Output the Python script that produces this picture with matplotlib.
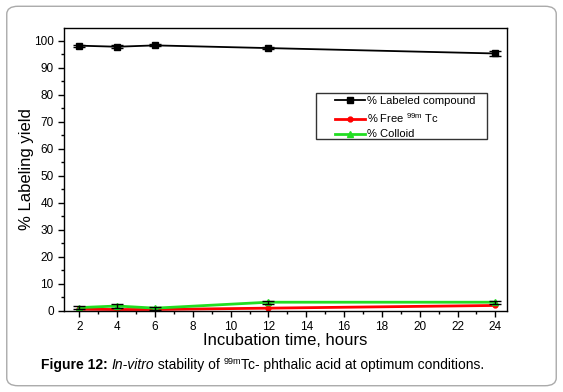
import matplotlib
matplotlib.use("Agg")
import matplotlib.pyplot as plt
from matplotlib.patches import FancyBboxPatch, Rectangle
from matplotlib.ticker import MultipleLocator

plt.rcParams['font.family'] = ['Liberation Sans', 'DejaVu Sans']
plt.rcParams['mathtext.fontset'] = 'custom'
plt.rcParams['mathtext.rm'] = 'Liberation Sans'
plt.rcParams['mathtext.it'] = 'Liberation Sans:italic'
plt.rcParams['mathtext.bf'] = 'Liberation Sans:bold'

hours = [2, 4, 6, 12, 24]
labeled = [98.2, 97.8, 98.3, 97.3, 95.3]
labeled_err = [0.4, 0.5, 0.4, 0.5, 0.8]
free_tc = [0.6, 0.5, 0.5, 1.0, 2.0]
colloid = [1.2, 1.8, 1.0, 3.2, 3.2]
colloid_err = [0.6, 0.8, 0.5, 0.6, 0.6]

fig = plt.figure(figsize=(5.63, 3.92), dpi=100)
border = FancyBboxPatch((0.012, 0.016), 0.976, 0.968, boxstyle="round,pad=0,rounding_size=0.02",
                        transform=fig.transFigure, facecolor='white', edgecolor='#aaaaaa',
                        linewidth=1.0, zorder=-10)
fig.patches.append(border)

ax = fig.add_axes([0.114, 0.207, 0.786, 0.722])
ax.errorbar(hours, labeled, yerr=labeled_err, fmt='none', ecolor='black', capsize=4,
            elinewidth=1)
h1, = ax.plot(hours, labeled, color='black', marker='s', markersize=4.5,
              linewidth=1.3, label='% Labeled compound')
h2, = ax.plot(hours, free_tc, color='#ff0000', marker='o', markersize=3.5, linewidth=2,
              label='% Free $^{\\rm 99m}$ Tc')
h3, = ax.plot(hours, colloid, color='#22dd22', marker='^', markersize=4, linewidth=2,
              label='% Colloid')
ax.errorbar(hours, colloid, yerr=colloid_err, fmt='none', ecolor='black', capsize=4,
            elinewidth=1)

ax.set_xlim(1.2, 24.6)
ax.set_ylim(0, 104.8)
ax.xaxis.set_major_locator(MultipleLocator(2))
ax.xaxis.set_minor_locator(MultipleLocator(1))
ax.yaxis.set_major_locator(MultipleLocator(10))
ax.yaxis.set_minor_locator(MultipleLocator(5))
ax.set_xticks(range(2, 25, 2))
ax.tick_params(axis='both', which='major', direction='out', length=4, labelsize=8.5, width=1)
ax.tick_params(axis='both', which='minor', direction='out', length=2.5, width=1)
for s in ax.spines.values():
    s.set_linewidth(1.0)
ax.set_xlabel('Incubation time, hours', fontsize=12, labelpad=0)
ax.set_ylabel('% Labeling yield', fontsize=12, labelpad=0)

# legend box drawn separately (reference has a wide blank left margin)
ax.add_patch(Rectangle((0.569, 0.608), 0.386, 0.162, transform=ax.transAxes,
                       facecolor='white', edgecolor='#333333', linewidth=1.0, zorder=4))
leg = ax.legend(handles=[h1, h2, h3], loc='upper left', bbox_to_anchor=(0.612, 0.758),
                fontsize=8, frameon=False, handlelength=2.7, borderpad=0,
                labelspacing=0.42, handletextpad=0.2, borderaxespad=0)
leg.set_zorder(5)

# caption built from pieces on a common baseline
renderer = fig.canvas.get_renderer()
base_y = 0.058
pieces = [("Figure 12:", dict(weight='bold'), 0, 10),
          (" ", {}, 0, 10),
          ("In-vitro", dict(style='italic'), 0, 10),
          (" stability of ", {}, 0, 10),
          ("99m", {}, 0.014, 6.5),
          ("Tc- phthalic acid at optimum conditions.", {}, 0, 10)]
texts = []
for s, kw, dy, fs in pieces:
    t = fig.text(0, base_y + dy, s, fontsize=fs, va='baseline', ha='left', **kw)
    texts.append(t)
widths = [t.get_window_extent(renderer).width for t in texts]
total = sum(widths)
x = 0.466 * fig.bbox.width - total / 2
for t, w in zip(texts, widths):
    t.set_x(x / fig.bbox.width)
    x += w

fig.savefig('out.png', dpi=100)
